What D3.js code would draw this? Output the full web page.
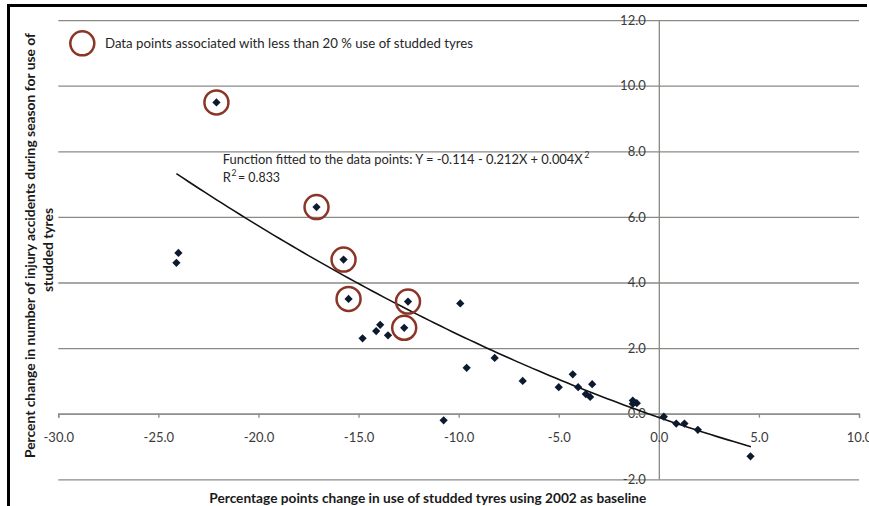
<!DOCTYPE html>
<html>
<head>
<meta charset="utf-8">
<script src="https://cdn.jsdelivr.net/npm/d3@7"></script>
<style>
  html, body { margin: 0; padding: 0; background: #fff; }
  svg { display: block; }
</style>
</head>
<body>
<svg id="chart" width="869" height="506"></svg>
<script>
// ---- data ----
const xValues = [-24.0, -24.1, -22.1, -17.1, -15.75, -15.5, -14.8, -14.12, -13.92, -13.53, -12.72, -12.53,
                 -10.75, -9.92, -9.6, -8.2, -6.8, -5.0, -4.3, -4.03, -3.65, -3.43, -3.33,
                 -1.3, -1.1, -1.3, 0.25, 0.87, 1.28, 1.95, 4.58];
const yValues = [4.90, 4.60, 9.49, 6.30, 4.70, 3.50, 2.30, 2.52, 2.71, 2.39, 2.62, 3.42,
                 -0.20, 3.36, 1.40, 1.70, 1.00, 0.81, 1.20, 0.81, 0.60, 0.51, 0.90,
                 0.40, 0.32, 0.30, -0.09, -0.30, -0.30, -0.49, -1.30];
// indices of points with less than 20 % use of studded tyres (circled)
const circledIdx = [2, 3, 4, 5, 10, 11];
// fitted function shown in chart: Y = c0 + c1*X + c2*X^2, drawn over the data range
const fitCoefficients = [-0.114, -0.212, 0.004];
const fitRange = [-24.1, 4.6];
const xTicks = [-30, -25, -20, -15, -10, -5, 0, 5, 10];
const yTicks = [-2, 0, 2, 4, 6, 8, 10, 12];
const legendLabel = "Data points associated with less than 20 % use of studded tyres";
const fitLabel = "Function fitted to the data points: Y = -0.114 - 0.212X + 0.004X";
const r2Label = "= 0.833";
const xTitle = "Percentage points change in use of studded tyres using 2002 as baseline";
const yTitle1 = "Percent change in number of injury accidents during season for use of";
const yTitle2 = "studded tyres";

// ---- drawing ----
const svg = d3.select("#chart");
const FONT = "Lato, 'Open Sans', 'Liberation Sans', sans-serif";
const GRID = "#8a8a85";
const fmt = d => d.toFixed(1);

const x = d3.scaleLinear().domain([-30, 10]).range([58.3, 859]);
const y = d3.scaleLinear().domain([-2, 12]).range([479.3, 20.1]);

// frame (cropped figure border: top + left)
svg.append("path").attr("d", "M8.5,506 L8.5,5.5 L867,5.5")
  .attr("fill", "none").attr("stroke", "#000").attr("stroke-width", 3);

// horizontal gridlines
const grid = svg.append("g").attr("transform", `translate(${x.range()[0]},0)`)
  .call(d3.axisLeft(y).tickValues(yTicks).tickSize(-(x.range()[1] - x.range()[0])).tickFormat(""));
grid.select(".domain").remove();
grid.selectAll(".tick line").attr("stroke", GRID).attr("stroke-width", 1.3);

// vertical axis line at x = 0 with labels
const yAxis = svg.append("g").attr("transform", `translate(${x(0)},0)`)
  .call(d3.axisLeft(y).tickValues(yTicks).tickSize(0).tickPadding(13).tickFormat(fmt));
yAxis.select(".domain").attr("stroke", GRID).attr("stroke-width", 1.3);
yAxis.selectAll(".tick text").attr("font-family", FONT).attr("font-size", 13).attr("fill", "#3a3a3a");

// horizontal axis at y = 0
const xAxis = svg.append("g").attr("transform", `translate(0,${y(0)})`)
  .call(d3.axisBottom(x).tickValues(xTicks).tickSize(4).tickSizeOuter(4).tickPadding(15).tickFormat(fmt));
xAxis.select(".domain").attr("stroke", GRID).attr("stroke-width", 1.3);
xAxis.selectAll(".tick line").attr("stroke", GRID).attr("stroke-width", 1.3);
xAxis.selectAll(".tick text").attr("font-family", FONT).attr("font-size", 13).attr("fill", "#3a3a3a");

// fitted curve
const fit = X => fitCoefficients[0] + fitCoefficients[1] * X + fitCoefficients[2] * X * X;
const curveX = d3.range(0, 101).map(i => fitRange[0] + (fitRange[1] - fitRange[0]) * i / 100);
svg.append("path")
  .datum(curveX)
  .attr("d", d3.line().x(d => x(d)).y(d => y(fit(d))))
  .attr("fill", "none").attr("stroke", "#111").attr("stroke-width", 1.6);

// data points (diamonds)
const pts = xValues.map((v, i) => ({ x: v, y: yValues[i] }));
const diamond = d3.symbol().type(d3.symbolSquare).size(34);
svg.append("g").selectAll("path").data(pts).join("path")
  .attr("d", diamond)
  .attr("transform", d => `translate(${x(d.x)},${y(d.y)}) rotate(45)`)
  .attr("fill", "#0c1a30");

// circles around low-use points
const CIRC = "#8b3527";
svg.append("g").selectAll("circle").data(circledIdx.map(i => pts[i])).join("circle")
  .attr("cx", d => x(d.x)).attr("cy", d => y(d.y)).attr("r", 12)
  .attr("fill", "none").attr("stroke", CIRC).attr("stroke-width", 2.5);

// legend
svg.append("circle").attr("cx", 82.3).attr("cy", 43.3).attr("r", 12)
  .attr("fill", "none").attr("stroke", CIRC).attr("stroke-width", 2.5);
svg.append("text").attr("x", 105).attr("y", 47.5)
  .attr("font-family", FONT).attr("font-size", 13).attr("fill", "#262626")
  .attr("textLength", 368).attr("lengthAdjust", "spacingAndGlyphs")
  .text(legendLabel);

// fit annotation
svg.append("text").attr("x", 222.7).attr("y", 164)
  .attr("font-family", FONT).attr("font-size", 13).attr("fill", "#262626")
  .attr("textLength", 360).attr("lengthAdjust", "spacingAndGlyphs")
  .text(fitLabel);
svg.append("text").attr("x", 584.5).attr("y", 157.5)
  .attr("font-family", FONT).attr("font-size", 8.5).attr("fill", "#262626").text("2");
svg.append("text").attr("x", 222.7).attr("y", 181.5)
  .attr("font-family", FONT).attr("font-size", 13).attr("fill", "#262626").text("R");
svg.append("text").attr("x", 231.5).attr("y", 175.5)
  .attr("font-family", FONT).attr("font-size", 8.5).attr("fill", "#262626").text("2");
svg.append("text").attr("x", 238).attr("y", 181.5)
  .attr("font-family", FONT).attr("font-size", 13).attr("fill", "#262626")
  .attr("textLength", 42).attr("lengthAdjust", "spacingAndGlyphs")
  .text(r2Label);

// axis titles
svg.append("text").attr("x", 209.3).attr("y", 502.5)
  .attr("font-family", FONT).attr("font-size", 13.5).attr("font-weight", "bold").attr("fill", "#1a1a1a")
  .attr("textLength", 437).attr("lengthAdjust", "spacingAndGlyphs")
  .text(xTitle);
svg.append("text").attr("transform", "translate(34.5,458) rotate(-90)")
  .attr("font-family", FONT).attr("font-size", 13.5).attr("font-weight", "bold").attr("fill", "#1a1a1a")
  .attr("textLength", 425).attr("lengthAdjust", "spacingAndGlyphs")
  .text(yTitle1);
svg.append("text").attr("transform", "translate(52.5,292) rotate(-90)")
  .attr("font-family", FONT).attr("font-size", 13.5).attr("font-weight", "bold").attr("fill", "#1a1a1a")
  .attr("textLength", 84).attr("lengthAdjust", "spacingAndGlyphs")
  .text(yTitle2);
</script>
</body>
</html>
